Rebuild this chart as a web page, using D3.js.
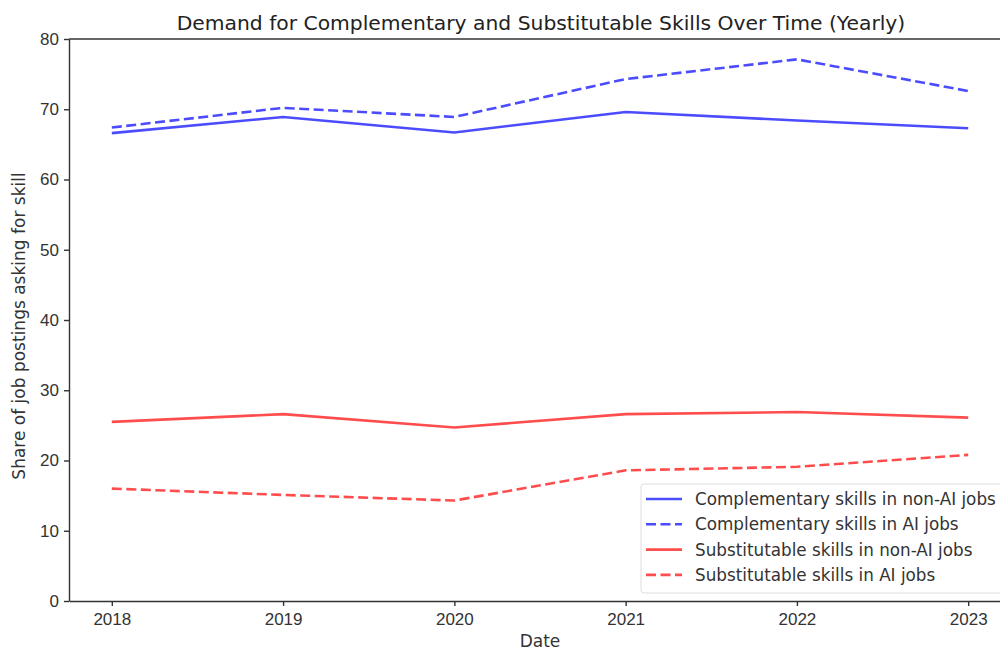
<!DOCTYPE html>
<html>
<head>
<meta charset="utf-8">
<script src="https://cdn.jsdelivr.net/npm/d3@7"></script>
<style>
  body { margin: 0; background: #fff; }
  svg { display: block; font-family: "DejaVu Sans", sans-serif; }
  .axis text { fill: #333; font-size: 17px; }
  .axis path, .axis line { stroke: #333; stroke-width: 1.4; }
</style>
</head>
<body>
<div id="graph"></div>
<script>
  const years = [2018, 2019, 2020, 2021, 2022, 2023];
  const compNonAI = [66.6, 68.9, 66.7, 69.6, 68.4, 67.3];
  const compAI = [67.4, 70.2, 68.9, 74.3, 77.1, 72.6];
  const subNonAI = [25.5, 26.6, 24.7, 26.6, 26.9, 26.1];
  const subAI = [16.0, 15.1, 14.3, 18.6, 19.1, 20.8];
  const yTicks = [0, 10, 20, 30, 40, 50, 60, 70, 80];

  const series = [
    { name: 'Complementary skills in non-AI jobs', values: compNonAI, color: 'rgba(0,0,255,0.7)', dash: null },
    { name: 'Complementary skills in AI jobs', values: compAI, color: 'rgba(0,0,255,0.7)', dash: '10,4.5' },
    { name: 'Substitutable skills in non-AI jobs', values: subNonAI, color: 'rgba(255,0,0,0.7)', dash: null },
    { name: 'Substitutable skills in AI jobs', values: subAI, color: 'rgba(255,0,0,0.7)', dash: '10,4.5' }
  ];

  //sizing
  const width = 1000;
  const height = 652;
  const padLeft = 69, padRight = 1011, padTop = 39, padBottom = 601;

  //scales
  const xScale = d3.scaleLinear().domain([2017.75, 2023.25]).range([padLeft, padRight]);
  const yScale = d3.scaleLinear().domain([0, 80]).range([padBottom, padTop]);

  const svg = d3.select('#graph')
              .append('svg')
              .attr('width', width)
              .attr('height', height);

  //axes
  svg.append('g')
     .attr('class', 'axis')
     .attr('transform', 'translate(0,' + padBottom + ')')
     .call(d3.axisBottom(xScale).tickValues(years).tickFormat(d3.format('d')).tickSize(5).tickSizeOuter(0).tickPadding(7));

  svg.append('g')
     .attr('class', 'axis')
     .attr('transform', 'translate(' + padLeft + ',0)')
     .call(d3.axisLeft(yScale).tickValues(yTicks).tickSize(5).tickSizeOuter(0).tickPadding(5));

  // top spine
  svg.append('line')
     .attr('x1', padLeft).attr('x2', padRight)
     .attr('y1', padTop).attr('y2', padTop)
     .attr('stroke', '#333').attr('stroke-width', 1.4);

  //lines
  const line = d3.line()
                 .x((d, i) => xScale(years[i]))
                 .y((d) => yScale(d));

  series.forEach((s) => {
    svg.append('path')
       .datum(s.values)
       .attr('d', line)
       .attr('fill', 'none')
       .attr('stroke', s.color)
       .attr('stroke-width', 2.6)
       .attr('stroke-dasharray', s.dash);
  });

  //labels
  svg.append('text')
     .attr('x', 541)
     .attr('y', 30)
     .attr('text-anchor', 'middle')
     .attr('font-size', 20.3)
     .attr('fill', '#222')
     .text('Demand for Complementary and Substitutable Skills Over Time (Yearly)');

  svg.append('text')
     .attr('x', 540)
     .attr('y', 647)
     .attr('text-anchor', 'middle')
     .attr('font-size', 17)
     .attr('fill', '#333')
     .text('Date');

  svg.append('text')
     .attr('transform', 'translate(25,326) rotate(-90)')
     .attr('text-anchor', 'middle')
     .attr('font-size', 17)
     .attr('fill', '#333')
     .text('Share of job postings asking for skill');

  //legend
  const legend = svg.append('g').attr('transform', 'translate(641,484)');
  legend.append('rect')
        .attr('x', 0).attr('y', 0)
        .attr('width', 380).attr('height', 109)
        .attr('rx', 3)
        .attr('fill', 'rgba(255,255,255,0.8)')
        .attr('stroke', '#ddd');

  series.forEach((s, i) => {
    let y = 15 + i * 25.3;
    legend.append('line')
          .attr('x1', 5).attr('x2', 41)
          .attr('y1', y).attr('y2', y)
          .attr('stroke', s.color)
          .attr('stroke-width', 2.6)
          .attr('stroke-dasharray', s.dash);
    legend.append('text')
          .attr('x', 54)
          .attr('y', y + 6)
          .attr('font-size', 16.8)
          .attr('fill', '#333')
          .text(s.name);
  });
</script>
</body>
</html>
